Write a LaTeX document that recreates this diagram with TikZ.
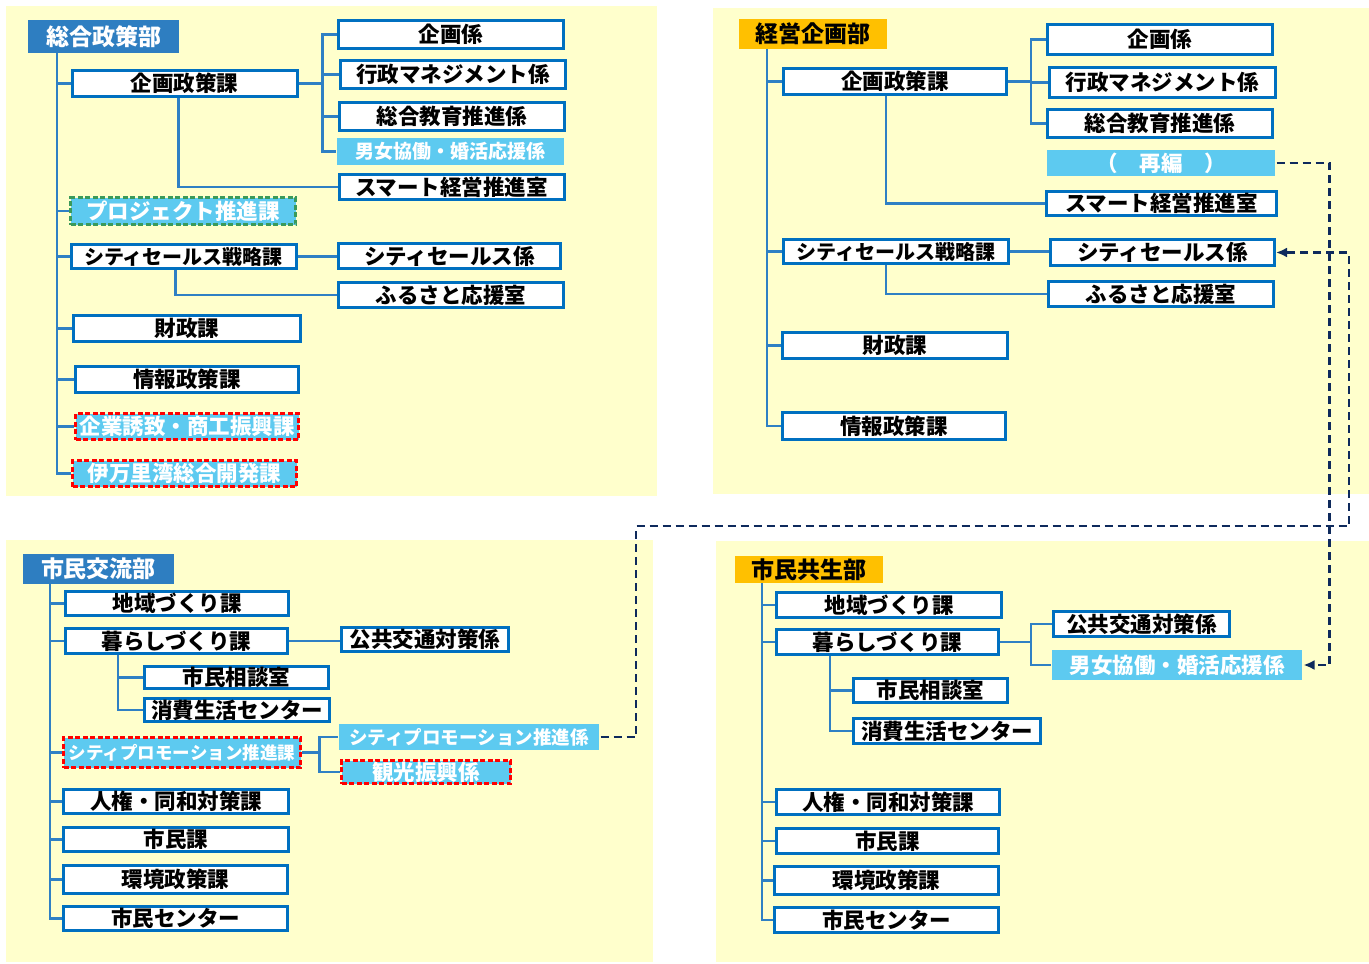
\documentclass[tikz,border=0pt]{standalone}
\usepackage{fontspec}
\setmainfont{Noto Sans CJK JP}
\usetikzlibrary{arrows.meta}

\definecolor{panel}{HTML}{FFFFCC}
\definecolor{boxblue}{HTML}{0070C0}
\definecolor{lineblue}{HTML}{2F80C4}
\definecolor{headblue}{HTML}{2E7EC1}
\definecolor{lightblue}{HTML}{5DCAF0}
\definecolor{headorange}{HTML}{FFC000}
\definecolor{navy}{HTML}{0E2A5C}
\definecolor{dashgreen}{HTML}{3A9A5A}

\tikzset{
    unit/.style={draw=boxblue, line width=3pt, fill=white, text=black, minimum width=225, minimum height=26, inner sep=0pt, font=\bfseries\fontsize{21.5}{22}\selectfont},
    moved/.style={unit, draw=none, fill=lightblue, text=white},
    reddash/.style={moved, draw=red, line width=2.4pt, dash pattern=on 5pt off 2.5pt},
    greendash/.style={moved, draw=dashgreen, line width=2.4pt, dash pattern=on 5pt off 2.5pt},
    bluehead/.style={fill=headblue, text=white, inner sep=0pt, font=\bfseries\fontsize{23}{24}\selectfont},
    orangehead/.style={bluehead, fill=headorange, text=black},
    link/.style={draw=lineblue, line width=2.8pt},
    move/.style={draw=navy, line width=2.8pt, dash pattern=on 8pt off 5pt, -{Latex[length=11pt,width=10pt]}},
}

\begin{document}
\begin{tikzpicture}[x=1pt, y=-1pt]

        \fill[white] (0,0) rectangle (1369,964);
        \useasboundingbox (0,0) rectangle (1369,964);

        % Panels
        \fill[panel] (6,6) rectangle (657,496);
        \fill[panel] (713,8) rectangle (1369,494);
        \fill[panel] (6,540) rectangle (653,962);
        \fill[panel] (716,541) rectangle (1369,962);

        % 総合政策部 (before)
        \node[bluehead, minimum width=151, minimum height=33] (a_head) at (103.5,36.5) {総合政策部};
        \coordinate (a_trunk) at (57,53);
        \node[unit] (a_kikaku) at (184.5,83.5) {企画政策課};
        \node[unit, minimum height=28] (a_k1) at (451,34.5) {企画係};
        \node[unit, minimum height=28] (a_k2) at (453,74.5) {行政マネジメント係};
        \node[unit, minimum height=28] (a_k3) at (452,116.5) {総合教育推進係};
        \node[moved, minimum width=227, minimum height=27, font=\bfseries\fontsize{19}{20}\selectfont] (a_k4) at (450.5,151.5) {男女協働・婚活応援係};
        \node[unit, minimum height=25] (a_smart) at (451.5,187) {スマート経営推進室};
        \node[greendash, minimum height=27] (a_proj) at (183,211) {プロジェクト推進課};
        \node[unit, minimum height=24, font=\bfseries\fontsize{20}{21}\selectfont] (a_city) at (183.5,256.5) {シティセールス戦略課};
        \node[unit, minimum width=222, minimum height=25] (a_cs1) at (449.5,256) {シティセールス係};
        \node[unit, minimum height=25] (a_cs2) at (451,295) {ふるさと応援室};
        \node[unit, minimum width=227] (a_zai) at (187,328.5) {財政課};
        \node[unit, minimum width=223] (a_joho) at (187,379.5) {情報政策課};
        \node[reddash, minimum width=223] (a_kigyo) at (187,426.5) {企業誘致・商工振興課};
        \node[reddash, minimum width=224] (a_imari) at (184.5,473.5) {伊万里湾総合開発課};

        \foreach \n in {a_kikaku, a_proj, a_city, a_zai, a_joho, a_kigyo, a_imari}{
            \draw[link] (a_trunk) |- (\n.west);
        }
        \draw[link] (a_kikaku.east) -- ++(24,0) coordinate (a_fork);
        \foreach \n in {a_k1, a_k2, a_k3, a_k4}{
            \draw[link] (a_fork) |- (\n.west);
        }
        \draw[link] ([xshift=-6]a_kikaku.south) |- (a_smart.west);
        \draw[link] (a_city.east) -- (a_city.east -| a_cs1.west);
        \draw[link] ([xshift=-8]a_city.south) |- (a_cs2.west);

        % 経営企画部 (after)
        \node[orangehead, minimum width=148, minimum height=30] (b_head) at (813,34) {経営企画部};
        \coordinate (b_trunk) at (767,49);
        \node[unit, minimum width=223] (b_kikaku) at (895,81.5) {企画政策課};
        \node[unit, minimum height=30] (b_k1) at (1160,39.5) {企画係};
        \node[unit, minimum width=226, minimum height=30] (b_k2) at (1162.5,82.5) {行政マネジメント係};
        \node[unit, minimum height=28] (b_k3) at (1160,123.5) {総合教育推進係};
        \node[moved, minimum width=228, minimum height=26] (b_re) at (1161,163) {（　再編　）};
        \node[unit, minimum width=230, minimum height=24] (b_smart) at (1161.5,203.5) {スマート経営推進室};
        \node[unit, minimum height=24, font=\bfseries\fontsize{20}{21}\selectfont] (b_city) at (896,251.5) {シティセールス戦略課};
        \node[unit, minimum width=224] (b_cs1) at (1162.5,252.5) {シティセールス係};
        \node[unit, minimum height=25] (b_cs2) at (1161,294) {ふるさと応援室};
        \node[unit] (b_zai) at (895,345.5) {財政課};
        \node[unit, minimum width=223, minimum height=27] (b_joho) at (894,426) {情報政策課};

        \foreach \n in {b_kikaku, b_city, b_zai, b_joho}{
            \draw[link] (b_trunk) |- (\n.west);
        }
        \draw[link] (b_kikaku.east) -- ++(23,0) coordinate (b_fork);
        \foreach \n in {b_k1, b_k2, b_k3}{
            \draw[link] (b_fork) |- (\n.west);
        }
        \draw[link] ([xshift=-9]b_kikaku.south) |- (b_smart.west);
        \draw[link] (b_city.east) -- (b_city.east -| b_cs1.west);
        \draw[link] ([xshift=-10]b_city.south) |- (b_cs2.west);

        % 市民交流部 (before)
        \node[bluehead, minimum width=151, minimum height=30] (c_head) at (98.5,569) {市民交流部};
        \coordinate (c_trunk) at (50,584);
        \node[unit, minimum width=223, minimum height=24] (c_chiiki) at (177,603.5) {地域づくり課};
        \node[unit, minimum width=222, minimum height=25] (c_kurashi) at (176.5,641) {暮らしづくり課};
        \node[unit, minimum width=167, minimum height=24] (c_kokyo) at (425,639.5) {公共交通対策係};
        \node[unit, minimum width=184, minimum height=22] (c_sodan) at (236.5,677.5) {市民相談室};
        \node[unit, minimum width=185, minimum height=23] (c_shohi) at (237,710) {消費生活センター};
        \node[reddash, minimum width=237, minimum height=30, font=\bfseries\fontsize{17.5}{18}\selectfont] (c_promo) at (182,752.5) {シティプロモーション推進課};
        \node[moved, minimum width=260, minimum height=26, font=\bfseries\fontsize{18.5}{19}\selectfont] (c_pk1) at (469,737) {シティプロモーション推進係};
        \node[reddash, minimum width=169, minimum height=23] (c_pk2) at (426,772) {観光振興係};
        \node[unit, minimum height=24] (c_jinken) at (176,801.5) {人権・同和対策課};
        \node[unit, minimum height=24] (c_shimin) at (176,839.5) {市民課};
        \node[unit, minimum width=224, minimum height=28] (c_kankyo) at (175.5,879.5) {環境政策課};
        \node[unit, minimum width=224, minimum height=24] (c_center) at (175.5,918.5) {市民センター};

        \foreach \n in {c_chiiki, c_kurashi, c_promo, c_jinken, c_shimin, c_kankyo, c_center}{
            \draw[link] (c_trunk) |- (\n.west);
        }
        \draw[link] (c_kurashi.east) -- (c_kurashi.east -| c_kokyo.west);
        \foreach \n in {c_sodan, c_shohi}{
            \draw[link] ([xshift=-58.5]c_kurashi.south) |- (\n.west);
        }
        \draw[link] (c_promo.east) -- ++(18,0) coordinate (c_fork);
        \foreach \n in {c_pk1, c_pk2}{
            \draw[link] (c_fork) |- (\n.west);
        }

        % 市民共生部 (after)
        \node[orangehead, minimum width=148, minimum height=27] (d_head) at (809,569.5) {市民共生部};
        \coordinate (d_trunk) at (762,583);
        \node[unit, minimum height=25] (d_chiiki) at (889,605) {地域づくり課};
        \node[unit, minimum width=222, minimum height=25] (d_kurashi) at (887.5,642) {暮らしづくり課};
        \node[unit, minimum width=176, minimum height=25] (d_kokyo) at (1141.5,624) {公共交通対策係};
        \node[moved, minimum width=250, minimum height=30] (d_danjo) at (1177,665) {男女協働・婚活応援係};
        \node[unit, minimum width=154, minimum height=24] (d_sodan) at (930.5,690.5) {市民相談室};
        \node[unit, minimum width=187, minimum height=25] (d_shohi) at (947,731) {消費生活センター};
        \node[unit, minimum width=223, minimum height=25] (d_jinken) at (888,802) {人権・同和対策課};
        \node[unit, minimum width=222, minimum height=25] (d_shimin) at (887.5,841) {市民課};
        \node[unit, minimum width=224, minimum height=28] (d_kankyo) at (886.5,880.5) {環境政策課};
        \node[unit, minimum width=224, minimum height=25] (d_center) at (886.5,920) {市民センター};

        \foreach \n in {d_chiiki, d_kurashi, d_jinken, d_shimin, d_kankyo, d_center}{
            \draw[link] (d_trunk) |- (\n.west);
        }
        \draw[link] (d_kurashi.east) -- ++(31,0) coordinate (d_fork);
        \foreach \n in {d_kokyo, d_danjo}{
            \draw[link] (d_fork) |- (\n.west);
        }
        \foreach \n in {d_sodan, d_shohi}{
            \draw[link] ([xshift=-57.5]d_kurashi.south) |- (\n.west);
        }

        % Moves
        \coordinate (m2) at (636,526);
        \draw[move] (b_re.east) -| ([xshift=26]d_danjo.east) -- (d_danjo.east);
        \draw[move] (c_pk1.east) -| (m2) -| ([xshift=73]b_cs1.east) -- (b_cs1.east);

    \end{tikzpicture}
\end{document}
